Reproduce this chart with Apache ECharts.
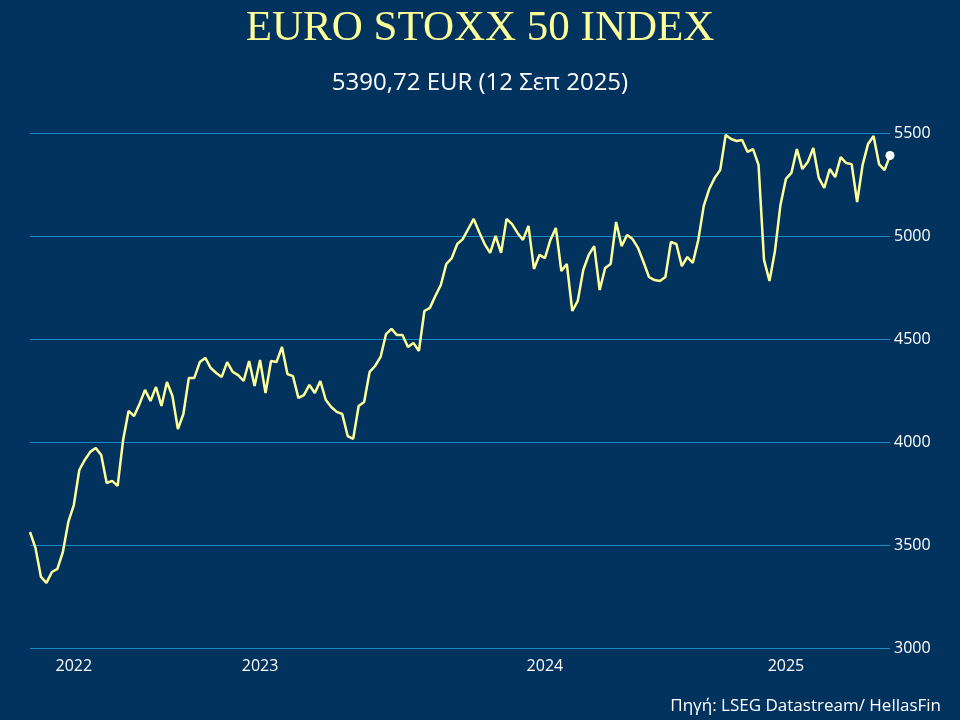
<!DOCTYPE html>
<html><head><meta charset="utf-8">
<script src="https://cdn.jsdelivr.net/npm/echarts@6/dist/echarts.min.js"></script>
<style>html,body{margin:0;padding:0;background:#02335F}#c{width:960px;height:720px}</style>
</head><body><div id="c"></div>
<script>
const values = [3563,3486,3345,3316,3369,3384,3466,3612,3694,3864,3913,3952,3971,3937,3801,3811,3787,4010,4151,4126,4185,4253,4199,4267,4175,4291,4223,4063,4136,4311,4311,4388,4408,4359,4335,4316,4388,4340,4325,4296,4393,4272,4398,4238,4393,4388,4461,4330,4320,4214,4228,4277,4238,4296,4204,4170,4146,4136,4029,4015,4175,4194,4340,4369,4413,4524,4549,4519,4519,4461,4481,4442,4636,4651,4709,4762,4864,4893,4961,4985,5034,5083,5019,4961,4918,5000,4918,5083,5058,5015,4981,5049,4840,4908,4893,4981,5039,4830,4864,4636,4685,4835,4908,4951,4738,4845,4864,5068,4951,5005,4985,4942,4874,4801,4786,4782,4801,4971,4961,4854,4898,4869,4981,5146,5228,5282,5320,5490,5471,5461,5466,5408,5422,5345,4884,4782,4927,5151,5277,5306,5422,5325,5359,5427,5282,5233,5325,5286,5383,5354,5349,5165,5345,5447,5485,5349,5320,5391];
const yearLabels = {8:'2022',42:'2023',94:'2024',138:'2025'};
const categories = values.map((v,i)=>yearLabels[i]||'');
const yTicks = [3000,3500,4000,4500,5000,5500];
const seriesData = values.map((v,i)=> i===values.length-1 ? {value:v,symbol:'circle',symbolSize:9,itemStyle:{color:'#ffffff'}} : {value:v,symbol:'none'});
const chart = echarts.init(document.getElementById('c'));
chart.setOption({
  backgroundColor:'#02335F',
  animation:false,
  title:[
    {text:'EURO STOXX 50 INDEX',left:'center',top:2,textStyle:{color:'#FFFF99',fontFamily:'Liberation Serif',fontWeight:'normal',fontSize:43}},
    {text:'5390,72 EUR (12 Σεπ 2025)',left:'center',top:66,textStyle:{color:'#ffffff',fontFamily:'Open Sans',fontWeight:'normal',fontSize:24}},
    {text:'Πηγή: LSEG Datastream/ HellasFin',right:14,top:693,textStyle:{color:'#ffffff',fontFamily:'Open Sans',fontWeight:'normal',fontSize:17}}
  ],
  grid:{left:30,right:70,top:133,bottom:72},
  xAxis:{type:'category',data:categories,boundaryGap:false,
    axisLine:{show:false},axisTick:{show:false},splitLine:{show:false},
    axisLabel:{interval:0,color:'#ffffff',fontSize:16,fontFamily:'Open Sans',margin:10}},
  yAxis:{type:'value',position:'right',min:yTicks[0],max:yTicks[yTicks.length-1],interval:500,
    axisLine:{show:false},axisTick:{show:false},
    splitLine:{lineStyle:{color:'#1E8BC3',width:1}},
    axisLabel:{color:'#ffffff',fontSize:16,fontFamily:'Open Sans',margin:4,formatter:v=>String(v)}},
  series:[{type:'line',data:seriesData,showSymbol:true,showAllSymbol:true,symbol:'none',
    lineStyle:{color:'#FFFF99',width:2.5},itemStyle:{color:'#FFFF99'}}]
});
</script></body></html>
